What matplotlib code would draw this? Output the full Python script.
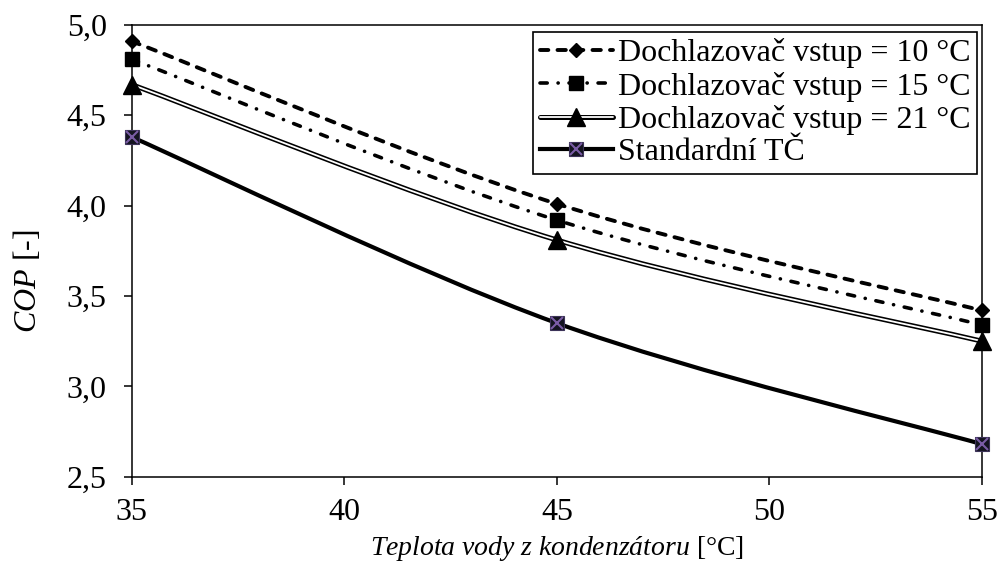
import numpy as np
import matplotlib.pyplot as plt
from matplotlib.path import Path
from matplotlib.patches import PathPatch
from matplotlib.lines import Line2D
from matplotlib.ticker import FuncFormatter, MultipleLocator

plt.rcParams['font.family'] = ['Liberation Serif', 'DejaVu Serif']
plt.rcParams['mathtext.fontset'] = 'custom'
plt.rcParams['mathtext.rm'] = 'Liberation Serif'
plt.rcParams['mathtext.it'] = 'Liberation Serif:italic'
plt.rcParams['lines.scale_dashes'] = False

# data
teplota = [35, 45, 55]
cop_10 = [4.91, 4.01, 3.42]
cop_15 = [4.81, 3.92, 3.34]
cop_21 = [4.67, 3.81, 3.25]
cop_std = [4.38, 3.35, 2.68]
labels = ['Dochlazovač vstup = 10 °C', 'Dochlazovač vstup = 15 °C',
          'Dochlazovač vstup = 21 °C', 'Standardní TČ']

FS = 23
X_PURPLE = '#7a5ca6'
DASH = (0, (6.0, 6.6))
DASHDOT = (0, (5.2, 7.8, 0.1, 7.8))


def smooth_path(x, y):
    # catmull-rom style bezier through the points (like excel smoothed lines)
    p = np.column_stack([x, y]).astype(float)
    ext = np.vstack([p[:1], p, p[-1:]])
    tang = (ext[2:] - ext[:-2]) / 6.0
    verts = [p[0]]
    codes = [Path.MOVETO]
    for i in range(len(p) - 1):
        verts += [p[i] + tang[i], p[i + 1] - tang[i + 1], p[i + 1]]
        codes += [Path.CURVE4] * 3
    return Path(verts, codes)


def curve(ax, y, **kw):
    patch = PathPatch(smooth_path(teplota, y), fill=False, capstyle='round',
                      joinstyle='round', clip_on=False, **kw)
    ax.add_patch(patch)


fig = plt.figure(figsize=(9.98, 5.74), dpi=100)
ax = fig.add_axes([0.132, 0.1695, 0.852, 0.787])

curve(ax, cop_10, edgecolor='k', lw=2.8, linestyle=DASH, zorder=3)
curve(ax, cop_15, edgecolor='k', lw=2.6, linestyle=DASHDOT, zorder=3)
curve(ax, cop_21, edgecolor='k', lw=3.6, zorder=3)
curve(ax, cop_21, edgecolor='white', lw=1.3, zorder=3.1)
curve(ax, cop_std, edgecolor='k', lw=3.0, zorder=3)

mk10 = dict(marker='D', ms=7.5, mfc='k', mec='k', ls='none')
mk15 = dict(marker='s', ms=9.5, mfc='k', mec='k', ls='none')
mk21 = dict(marker='^', ms=13.5, mfc='k', mec='k', ls='none')
mkstd = dict(marker='s', ms=10, mfc='#141420', mec='#3c3358', mew=0.8, ls='none')
mkx = dict(marker='x', ms=8.5, color=X_PURPLE, mew=1.5, ls='none')

ax.plot(teplota, cop_10, zorder=5, clip_on=False, **mk10)
ax.plot(teplota, cop_15, zorder=5, clip_on=False, **mk15)
ax.plot(teplota, cop_21, zorder=5, clip_on=False, **mk21)
ax.plot(teplota, cop_std, zorder=5, clip_on=False, **mkstd)
ax.plot(teplota, cop_std, zorder=6, clip_on=False, **mkx)

ax.set_xlim(35, 55)
ax.set_ylim(2.5, 5.0)
ax.xaxis.set_major_locator(MultipleLocator(5))
ax.yaxis.set_major_locator(MultipleLocator(0.5))
ax.yaxis.set_major_formatter(FuncFormatter(lambda v, p: f'{v:.1f}'.replace('.', ',')))
ax.tick_params(direction='out', length=6, width=1.1, labelsize=FS)
ax.tick_params(axis='x', pad=9)
ax.tick_params(axis='y', pad=12)
for s in ax.spines.values():
    s.set_linewidth(1.1)

ax.set_xlabel(r'$\mathit{Teplota\ vody\ z\ kondenzátoru}$ [°C]', fontsize=20)
ax.set_ylabel(r'$\mathit{COP}$ [-]', fontsize=FS)
ax.xaxis.set_label_coords(0.5, -0.158)
ax.xaxis.label.set_va('center')
ax.yaxis.set_label_coords(-0.123, 0.433)
ax.yaxis.label.set_va('center')

# legend handles
h10 = Line2D([], [], color='k', lw=2.8, ls=DASH, dash_capstyle='round',
             marker='D', ms=7.5, mfc='k', mec='k')
h15 = Line2D([], [], color='k', lw=2.6, ls=DASHDOT, dash_capstyle='round',
             marker='s', ms=9.5, mfc='k', mec='k')
h21 = (Line2D([], [], color='k', lw=3.6, solid_capstyle='round'),
       Line2D([], [], color='white', lw=1.3, solid_capstyle='round'),
       Line2D([], [], **mk21))
hstd = (Line2D([], [], color='k', lw=3.0),
        Line2D([], [], **mkstd),
        Line2D([], [], **mkx))

leg = ax.legend([h10, h15, h21, hstd], labels, loc='upper right',
                bbox_to_anchor=(0.994, 0.9845), borderaxespad=0, fontsize=FS,
                numpoints=1, handlelength=2.3, handletextpad=0.15,
                labelspacing=0.1, borderpad=0.2, fancybox=False,
                edgecolor='k', framealpha=1)
leg.get_frame().set_linewidth(1.2)
leg.set_zorder(10)

fig.savefig('out.png', dpi=100)
